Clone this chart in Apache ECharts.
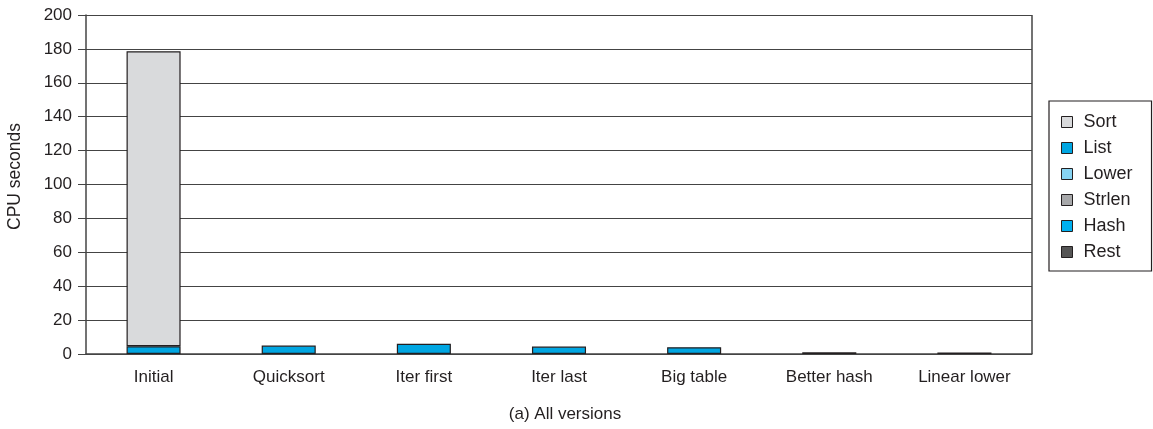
<!DOCTYPE html>
<html><head><meta charset="utf-8">
<script src="https://cdn.jsdelivr.net/npm/echarts@6/dist/echarts.min.js"></script>
<style>html,body{margin:0;padding:0;background:#fff}#c{width:1153px;height:429px}</style>
</head><body><div id="c"></div>
<script>
const categories = ['Initial','Quicksort','Iter first','Iter last','Big table','Better hash','Linear lower'];
const sortVals   = [174.0, 0, 0, 0, 0, 0, 0];
const listVals   = [4.6, 5.0, 6.0, 4.4, 4.0, 0, 0];
const lowerVals  = [0, 0, 0, 0, 0, 0, 0];
const strlenVals = [0, 0, 0, 0, 0, 0, 0];
const hashVals   = [0, 0, 0, 0, 0, 0, 0];
const restVals   = [0, 0, 0, 0, 0, 1.0, 0.9];
const yTicks = [0,20,40,60,80,100,120,140,160,180,200];

const seriesDefs = [
  ['Sort', sortVals, '#d9dadc'],
  ['List', listVals, '#00a6e2'],
  ['Lower', lowerVals, '#86d3f2'],
  ['Strlen', strlenVals, '#a7a8aa'],
  ['Hash', hashVals, '#00b0f0'],
  ['Rest', restVals, '#555555']
];
const font = 'Liberation Sans, Arial, sans-serif';
const chart = echarts.init(document.getElementById('c'), null, {renderer:'canvas'});
chart.setOption({
  animation:false,
  backgroundColor:'#fff',
  grid:{left:86, right:121, top:15, bottom:75, containLabel:false, outerBoundsMode:'none'},
  title:{text:'(a) All versions', left:560, top:401, textAlign:'center',
    textStyle:{fontFamily:font, fontSize:17, fontWeight:'normal', color:'#231f20'}},
  legend:{
    orient:'vertical', left:1049, top:101,
    data: seriesDefs.map(s=>s[0]),
    icon:'rect', itemWidth:11, itemHeight:11, itemGap:8,
    padding:[12,19,10,12],
    borderColor:'#231f20', borderWidth:1.2,
    itemStyle:{borderColor:'#231f20', borderWidth:1},
    textStyle:{fontFamily:font, fontSize:18, color:'#231f20', lineHeight:18, padding:[0,0,0,6]}
  },
  xAxis:{type:'category', data:categories,
    axisLine:{lineStyle:{color:'#444', width:1.5}},
    axisTick:{show:false},
    axisLabel:{fontFamily:font, fontSize:17, color:'#231f20', margin:15}},
  yAxis:{type:'value', min:0, max:200, interval:20,
    name:'CPU seconds', nameLocation:'middle', nameGap:62,
    nameTextStyle:{fontFamily:font, fontSize:17.5, color:'#231f20', padding:[0,0,0,16]},
    axisLine:{show:true, lineStyle:{color:'#444', width:1.5}},
    axisTick:{show:true, length:8, lineStyle:{color:'#444'}},
    axisLabel:{fontFamily:font, fontSize:17, color:'#231f20', margin:14,
      formatter:v=>yTicks.includes(v)?String(v):''},
    splitLine:{show:true, lineStyle:{color:'#444', width:1.2}}},
  series: seriesDefs.slice().reverse().map(([name, vals, color])=>({
    name, type:'bar', stack:'t', barWidth:'40%',
    data: vals.map(v=>v===0?'-':v),
    itemStyle:{color, borderColor:'#231f20', borderWidth:1.2}
  })),
  graphic:[{type:'line', shape:{x1:1032, y1:15, x2:1032, y2:354}, style:{stroke:'#444', lineWidth:1.5}}]
});
</script></body></html>
